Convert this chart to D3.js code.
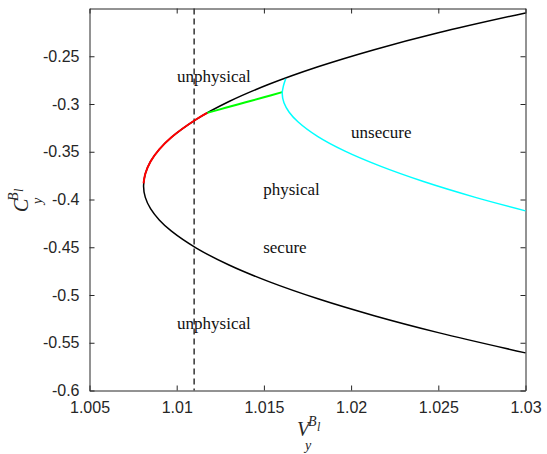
<!DOCTYPE html>
<meta charset="utf-8">
<style>
body { margin: 0; background: #fff; }
.tick text { font-family: "Liberation Sans", Arial, sans-serif; font-size: 16px; fill: #262626; }
.tick line, .domain { stroke: #262626; }
.region { font-family: "Liberation Serif", "Times New Roman", serif; font-size: 17px; fill: #111; }
.alabel { font-family: "Liberation Serif", "Times New Roman", serif; font-style: italic; fill: #262626; }
</style>
<script src="https://d3js.org/d3.v7.min.js"></script>
<body>
<div id="chart"></div>
</body>
<script>

// boundary curve, lower right end -> nose -> upper right end
var boundaryV = [1.03, 1.0250, 1.021325, 1.0181, 1.015325, 1.0130, 1.011125, 1.0097, 1.0090, 1.0085, 1.0082,
                 1.0081,
                 1.0082, 1.0085, 1.0090, 1.0097, 1.011125, 1.0130, 1.015325, 1.0181, 1.021325, 1.0250, 1.03];
var boundaryC = [-0.5606, -0.5394, -0.5217, -0.5040, -0.4863, -0.4686, -0.4509, -0.4332, -0.4214, -0.4096, -0.3978,
                 -0.3860,
                 -0.3731, -0.3602, -0.3475, -0.3348, -0.3160, -0.2974, -0.2791, -0.2610, -0.2431, -0.2254, -0.2046];

// red part on the boundary
var redV = [1.0081, 1.0082, 1.0085, 1.0090, 1.0097, 1.011125, 1.01175];
var redC = [-0.3830, -0.3731, -0.3602, -0.3475, -0.3348, -0.3160, -0.3093];

// green branch
var greenV = [1.01175, 1.0128, 1.0139, 1.0150, 1.01605];
var greenC = [-0.3093, -0.3040, -0.2985, -0.2929, -0.2876];

// cyan (security) curve
var cyanV = [1.01625, 1.01612, 1.01605, 1.01615, 1.01645, 1.01695, 1.018075, 1.01965, 1.021675, 1.02415, 1.027075, 1.03];
var cyanC = [-0.2735, -0.2810, -0.2890, -0.2988, -0.3086, -0.3186, -0.3339, -0.3494, -0.3651, -0.3812, -0.3975, -0.4119];

// vertical dashed limit
var vLimit = 1.011;

var xTicks = [1.005, 1.01, 1.015, 1.02, 1.025, 1.03];
var yTicks = [-0.6, -0.55, -0.5, -0.45, -0.4, -0.35, -0.3, -0.25];

// region labels (left edge / baseline in data units)
var labelText = ["unphysical", "unsecure", "physical", "secure", "unphysical"];
var labelV = [1.01002, 1.0200, 1.01496, 1.01496, 1.01002];
var labelC = [-0.2771, -0.3358, -0.3956, -0.4564, -0.5361];

var W = 547, H = 454;
var pLeft = 89.5, pRight = 525.5, pTop = 8.5, pBottom = 390.5;

var svg = d3.select("#chart").append("svg")
    .attr("width", W)
    .attr("height", H);

svg.append("rect").attr("width", W).attr("height", H).attr("fill", "#fff");

var x = d3.scaleLinear().domain([1.005, 1.03]).range([pLeft, pRight]);
var y = d3.scaleLinear().domain([-0.6, -0.2]).range([pBottom, pTop]);

function zip(vs, cs) {
  return vs.map(function(v, i) { return [v, cs[i]]; });
}

var line = d3.line()
    .x(function(d) { return x(d[0]); })
    .y(function(d) { return y(d[1]); })
    .curve(d3.curveCatmullRom.alpha(0.5));

// axes, ticks pointing inwards on all four sides
svg.append("g")
    .attr("transform", "translate(0," + pBottom + ")")
    .call(d3.axisBottom(x).tickValues(xTicks).tickSizeInner(-5).tickSizeOuter(0).tickPadding(11)
      .tickFormat(function(d) { return String(d); }));

svg.append("g")
    .attr("transform", "translate(0," + pTop + ")")
    .call(d3.axisTop(x).tickValues(xTicks).tickSizeInner(-5).tickSizeOuter(0).tickFormat(""));

svg.append("g")
    .attr("transform", "translate(" + pLeft + ",0)")
    .call(d3.axisLeft(y).tickValues(yTicks).tickSizeInner(-5).tickSizeOuter(0).tickPadding(10)
      .tickFormat(function(d) { return String(d); }));

svg.append("g")
    .attr("transform", "translate(" + pRight + ",0)")
    .call(d3.axisRight(y).tickValues(yTicks).tickSizeInner(-5).tickSizeOuter(0).tickFormat(""));

svg.selectAll(".tick text").attr("fill", "#262626");

// dashed line
svg.append("line")
    .attr("x1", x(vLimit)).attr("x2", x(vLimit))
    .attr("y1", pTop).attr("y2", pBottom)
    .attr("stroke", "#333")
    .attr("stroke-width", 1.5)
    .attr("stroke-dasharray", "6,4");

// curves
svg.append("path")
    .datum(zip(boundaryV, boundaryC))
    .attr("fill", "none").attr("stroke", "#000").attr("stroke-width", 1.5)
    .attr("d", line);

svg.append("path")
    .datum(zip(greenV, greenC))
    .attr("fill", "none").attr("stroke", "#00ff00").attr("stroke-width", 2)
    .attr("d", line);

svg.append("path")
    .datum(zip(redV, redC))
    .attr("fill", "none").attr("stroke", "#ff0000").attr("stroke-width", 2)
    .attr("d", line);

svg.append("path")
    .datum(zip(cyanV, cyanC))
    .attr("fill", "none").attr("stroke", "#00ffff").attr("stroke-width", 1.5)
    .attr("d", line);

// region labels
svg.selectAll(".region")
    .data(labelText)
  .enter().append("text")
    .attr("class", "region")
    .attr("x", function(d, i) { return x(labelV[i]); })
    .attr("y", function(d, i) { return y(labelC[i]); })
    .text(function(d) { return d; });

// axis labels: V_y^{B_l} and C_y^{B_l}
function axisLabel(g, base) {
  g.append("text").attr("class", "alabel").attr("font-size", 20).attr("x", 0).attr("y", 0).text(base);
  g.append("text").attr("class", "alabel").attr("font-size", 14).attr("x", 11).attr("y", -10).text("B");
  g.append("text").attr("class", "alabel").attr("font-size", 12).attr("x", 20).attr("y", -5).text("l");
  g.append("text").attr("class", "alabel").attr("font-size", 14).attr("x", 8).attr("y", 14).text("y");
}

axisLabel(svg.append("g").attr("transform", "translate(297,436)"), "V");
axisLabel(svg.append("g").attr("transform", "translate(28,212) rotate(-90)"), "C");

</script>
